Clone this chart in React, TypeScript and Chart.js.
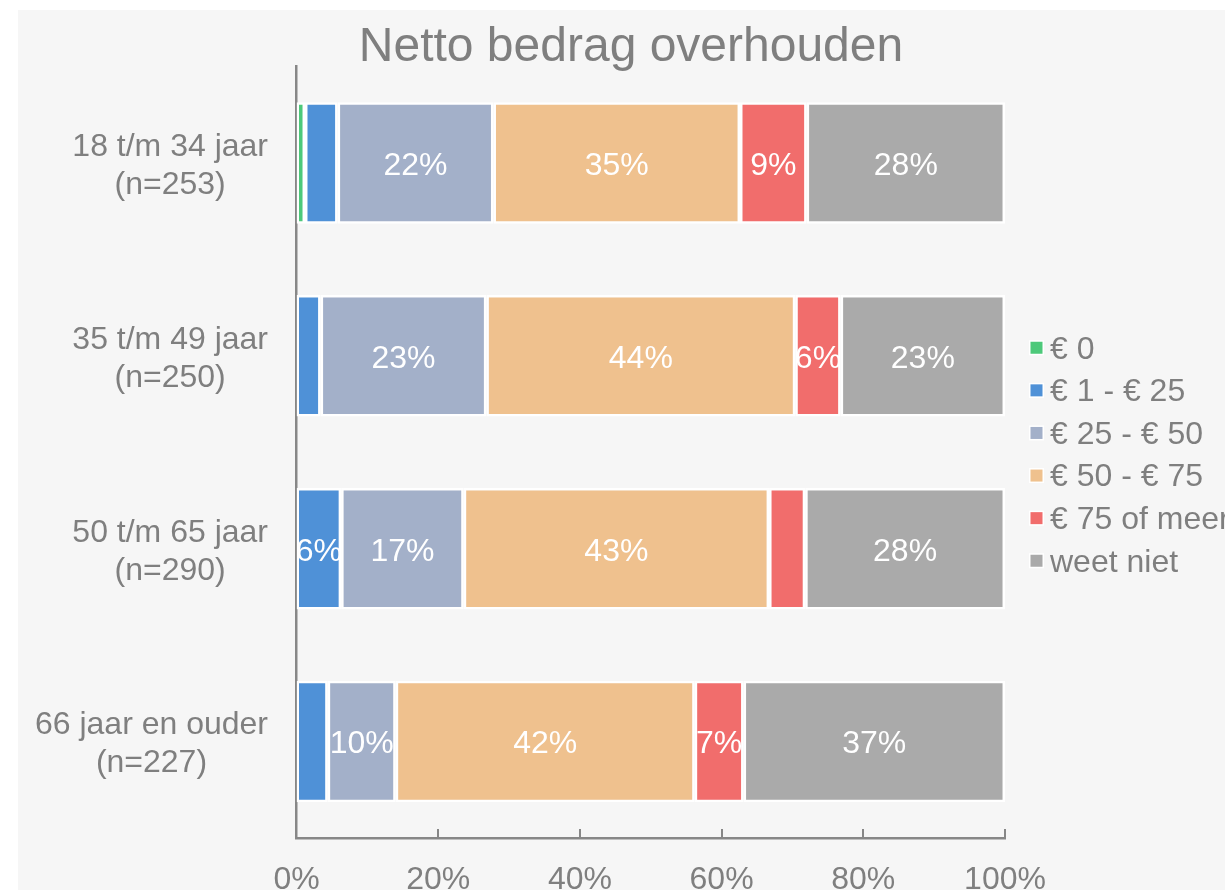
import React, { useEffect, useRef } from "react";
import { Chart, registerables } from "chart.js";
Chart.register(...registerables);

const chartTitle = "Netto bedrag overhouden";
const categories: string[][] = [
  ["18 t/m 34 jaar", "(n=253)"],
  ["35 t/m 49 jaar", "(n=250)"],
  ["50 t/m 65 jaar", "(n=290)"],
  ["66 jaar en ouder", "(n=227)"],
];
const seriesNames = ["€ 0", "€ 1 - € 25", "€ 25 - € 50", "€ 50 - € 75", "€ 75 of meer", "weet niet"];
const eur0 = [1.2, 0, 0, 0];
const eur1to25 = [4.6, 3.4, 6.3, 4.4];
const eur25to50 = [22, 23.4, 17.3, 9.6];
const eur50to75 = [34.8, 43.6, 43.1, 42.2];
const eur75plus = [9.4, 6.4, 5.1, 6.9];
const weetNiet = [28, 23.2, 28.2, 36.9];
const xTicks = [0, 20, 40, 60, 80, 100];

const seriesValues = [eur0, eur1to25, eur25to50, eur50to75, eur75plus, weetNiet];
const seriesColors = ["#4dc97a", "#4f91d7", "#a3b0c9", "#efc18e", "#f16d6c", "#aaaaaa"];

const FONT = '"Liberation Sans", Arial, Helvetica, sans-serif';
const TEXT = "#7f7f7f";
const AXIS = "#878787";
const W = 1207;
const H = 880;
const FS = 32;

const decor = {
  id: "decor",
  afterDatasetsDraw(chart: any) {
    const { ctx } = chart;
    ctx.save();
    ctx.fillStyle = "#ffffff";
    ctx.font = `${FS}px ${FONT}`;
    ctx.textAlign = "center";
    ctx.textBaseline = "middle";
    chart.data.datasets.forEach((ds: any, d: number) => {
      const meta = chart.getDatasetMeta(d);
      meta.data.forEach((bar: any, i: number) => {
        const v = ds.data[i];
        if (v < 5.5) return;
        const p = bar.getProps(["x", "y", "base"], true);
        ctx.fillText(Math.round(v) + "%", (p.x + p.base) / 2, p.y + 3);
      });
    });
    ctx.restore();
  },
  afterDraw(chart: any) {
    const { ctx, chartArea: ca, scales } = chart;
    const xs = scales.x;
    const ys = scales.y;
    ctx.save();
    // title
    ctx.fillStyle = TEXT;
    ctx.font = `48px ${FONT}`;
    ctx.textAlign = "center";
    ctx.textBaseline = "middle";
    ctx.fillText(chartTitle, 613, 38);

    // inner tick marks
    ctx.strokeStyle = AXIS;
    ctx.lineWidth = 2;
    xTicks.forEach((v) => {
      if (v === 0) return;
      const px = Math.round(xs.getPixelForValue(v));
      ctx.beginPath();
      ctx.moveTo(px, ca.bottom - 9);
      ctx.lineTo(px, ca.bottom);
      ctx.stroke();
    });

    // category labels: each block right-aligned, lines centered
    ctx.font = `${FS}px ${FONT}`;
    ctx.fillStyle = TEXT;
    ctx.textAlign = "center";
    ctx.textBaseline = "middle";
    const lh = 38;
    categories.forEach((lines, i) => {
      const cy = ys.getPixelForValue(i) + 3;
      const widest = Math.max(...lines.map((l) => ctx.measureText(l).width));
      const cx = ca.left - 28.5 - widest / 2;
      const y0 = cy - ((lines.length - 1) * lh) / 2;
      lines.forEach((l, k) => ctx.fillText(l, cx, y0 + k * lh));
    });

    // legend
    const gap = 42.6;
    const ly0 = (ca.top + ca.bottom) / 2 - 2.5 * gap + 2;
    const lx = ca.right + 24;
    ctx.textAlign = "left";
    chart.data.datasets.forEach((ds: any, d: number) => {
      const cy = ly0 + d * gap;
      ctx.fillStyle = "#ffffff";
      ctx.fillRect(lx, cy - 7.5, 15, 15);
      ctx.fillStyle = ds.backgroundColor;
      ctx.fillRect(lx + 1.5, cy - 6, 12, 12);
      ctx.fillStyle = TEXT;
      ctx.fillText(ds.label, lx + 21, cy + 2);
    });
    ctx.restore();
  },
};

export default function App() {
  const ref = useRef<HTMLCanvasElement>(null);
  useEffect(() => {
    if (!ref.current) return;
    const chart = new Chart(ref.current, {
      type: "bar",
      data: {
        labels: categories,
        datasets: seriesNames.map((name, k) => ({
          label: name,
          data: seriesValues[k],
          backgroundColor: seriesColors[k],
          borderColor: "#ffffff",
          borderWidth: 2.5,
          borderSkipped: false,
          barPercentage: 0.63,
          categoryPercentage: 1,
        })),
      },
      options: {
        indexAxis: "y",
        animation: false,
        responsive: false,
        devicePixelRatio: 1,
        layout: { padding: { top: 56.5, right: 220, left: 0, bottom: 0 } },
        plugins: {
          legend: { display: false },
          title: { display: false },
          tooltip: { enabled: false },
        },
        scales: {
          x: {
            type: "linear",
            stacked: true,
            min: 0,
            max: 100,
            grid: { display: false },
            border: { display: true, color: AXIS, width: 2.5 },
            ticks: {
              stepSize: 20,
              padding: 15,
              color: TEXT,
              font: { family: FONT, size: FS },
              callback: (v: any) => v + "%",
            },
            afterFit: (s: any) => {
              s.height = 52;
            },
          },
          y: {
            type: "category",
            stacked: true,
            grid: { display: false },
            border: { display: true, color: AXIS, width: 2.5 },
            ticks: { display: false },
            afterFit: (s: any) => {
              s.width = 278.5;
            },
          },
        },
      } as any,
      plugins: [decor],
    });
    return () => chart.destroy();
  }, []);

  return (
    <div
      style={{
        position: "fixed",
        left: 18,
        top: 10,
        width: W,
        height: H,
        overflow: "hidden",
        background: "#f6f6f6",
      }}
    >
      <canvas ref={ref} width={W} height={H} style={{ display: "block", width: W, height: H }} />
    </div>
  );
}
